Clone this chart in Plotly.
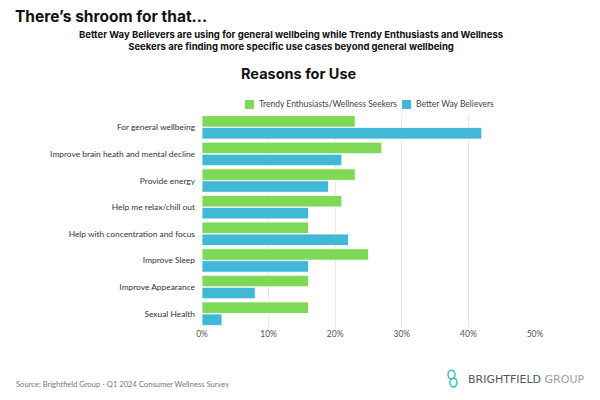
import plotly.graph_objects as go

# datos
categories = [
    "For general wellbeing",
    "Improve brain heath and mental decline",
    "Provide energy",
    "Help me relax/chill out",
    "Help with concentration and focus",
    "Improve Sleep",
    "Improve Appearance",
    "Sexual Health",
]
trendy = [0.23, 0.27, 0.23, 0.21, 0.16, 0.25, 0.16, 0.16]
better_way = [0.42, 0.21, 0.19, 0.16, 0.22, 0.16, 0.08, 0.03]
x_ticks = [0, 0.1, 0.2, 0.3, 0.4, 0.5]
series_names = ["Trendy Enthusiasts/Wellness Seekers", "Better Way Believers"]

GREEN = "#7ed957"
BLUE = "#41b8d5"
FONT = "Lato"

# la pagina tiene un margen de 8px en el body
OFF = 8
# plot area in pixels (coordenadas de la figura)
L, R, T, B = 194, 73, 106, 81
PW, PH = 600 - L - R, 400 - T - B


def px(x):
    # x en pixeles de la captura -> paper
    return (x - OFF - L) / PW


def py(y):
    return (400 - B - (y - OFF)) / PH


fig = go.Figure()
fig.add_trace(go.Bar(
    y=categories, x=trendy, orientation="h", name=series_names[0],
    marker=dict(color=GREEN, line=dict(color="#ffffff", width=0.8)),
))
fig.add_trace(go.Bar(
    y=categories, x=better_way, orientation="h", name=series_names[1],
    marker=dict(color=BLUE, line=dict(color="#ffffff", width=0.8)),
))

fig.update_layout(
    width=600, height=400,
    margin=dict(l=L, r=R, t=T, b=B, autoexpand=False),
    paper_bgcolor="white", plot_bgcolor="white",
    barmode="group", bargap=0.1, bargroupgap=0.04,
    font=dict(family=FONT, size=8.5, color="#333333"),
    showlegend=False,
    xaxis=dict(range=[0, 0.5], tickvals=x_ticks, tickformat=".0%",
               showgrid=True, gridcolor="#e8e8e8", gridwidth=1,
               zeroline=False, showline=False, ticks="", automargin=False,
               tickfont=dict(size=8.5, color="#555555")),
    yaxis=dict(autorange="reversed", showgrid=False, showline=False,
               ticks="", ticklabelstandoff=6, automargin=False,
               tickfont=dict(size=8.4, color="#333333")),
)

# leyenda manual
legend_items = [(series_names[0], GREEN, 245), (series_names[1], BLUE, 402)]
for name, color, x0 in legend_items:
    fig.add_shape(type="rect", xref="paper", yref="paper",
                  x0=px(x0), x1=px(x0 + 9), y0=py(109), y1=py(100),
                  fillcolor=color, line=dict(width=0))
    fig.add_annotation(text=name, xref="paper", yref="paper",
                       x=px(x0 + 12), y=py(104.5), xanchor="left", yanchor="middle",
                       showarrow=False, font=dict(size=8.5, color="#444444"))

# titulos
fig.add_annotation(text="<b>There’s shroom for that...</b>", xref="paper", yref="paper",
                   x=px(13), y=py(16), xanchor="left", yanchor="middle",
                   showarrow=False, font=dict(family="Inter", size=15.5, color="#111111"))
fig.add_annotation(text="<b>Better Way Believers are using for general wellbeing while Trendy Enthusiasts and Wellness<br>Seekers are finding more specific use cases beyond general wellbeing</b>",
                   xref="paper", yref="paper", x=px(291), y=py(41),
                   xanchor="center", yanchor="middle", showarrow=False, align="center",
                   font=dict(family="Inter", size=9.5, color="#111111"))
fig.add_annotation(text="<b>Reasons for Use</b>", xref="paper", yref="paper",
                   x=px(299), y=py(73), xanchor="center", yanchor="middle",
                   showarrow=False, font=dict(family="Inter", size=14.5, color="#111111"))
fig.add_annotation(text="Source: Brightfield Group - Q1 2024 Consumer Wellness Survey",
                   xref="paper", yref="paper", x=px(14), y=py(384),
                   xanchor="left", yanchor="middle", showarrow=False,
                   font=dict(size=7.6, color="#777777"))
fig.add_annotation(text="BRIGHTFIELD <span style='color:#9aa0a6'>GROUP</span>",
                   xref="paper", yref="paper", x=px(466), y=py(379),
                   xanchor="left", yanchor="middle", showarrow=False,
                   font=dict(family="DejaVu Sans", size=11, color="#50555f"))
# logo
fig.add_shape(type="circle", xref="paper", yref="paper",
              x0=px(448), x1=px(455), y0=py(379), y1=py(370),
              line=dict(color="#3fc1c9", width=1.5))
fig.add_shape(type="circle", xref="paper", yref="paper",
              x0=px(450), x1=px(457), y0=py(387), y1=py(378),
              line=dict(color="#3fc1c9", width=1.5))

fig.write_html("out.html")
